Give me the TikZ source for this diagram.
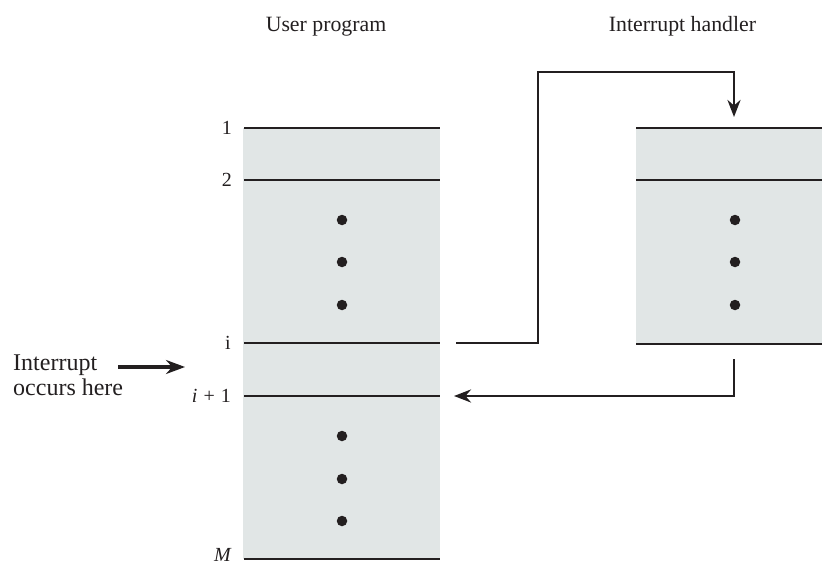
\documentclass[tikz,border=0pt]{standalone}
\usepackage{fontspec}
\setmainfont{Liberation Serif}
\usetikzlibrary{arrows.meta}
\definecolor{boxgray}{RGB}{225,230,230}
\definecolor{ink}{RGB}{35,31,32}
\begin{document}
\begin{tikzpicture}[x=1pt,y=-1pt,
  txt/.style={inner sep=0pt,text=ink,font=\fontsize{21.8}{25}\selectfont},
  note/.style={inner sep=0pt,text=ink,font=\fontsize{24}{25}\selectfont},
  lbl/.style={inner sep=0pt,text=ink,anchor=east,font=\fontsize{20}{21}\selectfont},
  rule/.style={draw=ink,line width=2pt},
  dotmark/.style={circle,fill=ink,inner sep=0pt,minimum size=10.5pt},
  flow/.style={draw=ink,line width=2.8pt,-{Stealth[length=17pt,width=13pt]}},
  bigflow/.style={draw=ink,line width=3.8pt,-{Stealth[length=19pt,width=14pt]}}]
\useasboundingbox (0,0) rectangle (822,567);
% boxes
\fill[boxgray] (243,128) rectangle (440,559);
\fill[boxgray] (636,128) rectangle (822,344);
% coordinates of rule ends
\coordinate (l1w) at (244,128); \coordinate (l1e) at (440,128);
\coordinate (l2w) at (244,180); \coordinate (l2e) at (440,180);
\coordinate (liw) at (244,343); \coordinate (lie) at (440,343);
\coordinate (ljw) at (244,396); \coordinate (lje) at (440,396);
\coordinate (lmw) at (244,559); \coordinate (lme) at (440,559);
\coordinate (r1w) at (636,128); \coordinate (r1e) at (822,128);
\coordinate (r2w) at (636,180); \coordinate (r2e) at (822,180);
\coordinate (r3w) at (636,344); \coordinate (r3e) at (822,344);
\foreach \a/\b in {l1w/l1e,l2w/l2e,liw/lie,ljw/lje,lmw/lme,r1w/r1e,r2w/r2e,r3w/r3e}
  \draw[rule] (\a) -- (\b);
% dots
\node[dotmark] (d1) at (342,220) {};
\node[dotmark] (d2) at (342,262) {};
\node[dotmark] (d3) at (342,305) {};
\node[dotmark] (d4) at (342,436) {};
\node[dotmark] (d5) at (342,479) {};
\node[dotmark] (d6) at (342,521) {};
\node[dotmark] (d7) at (735,220) {};
\node[dotmark] (d8) at (735,262) {};
\node[dotmark] (d9) at (735,305) {};
% titles
\node[txt,anchor=base] (tuser) at (326,32) {User program};
\node[txt,anchor=base] (thand) at (682.5,32) {Interrupt handler};
% labels
\node[lbl] (n1) at (232,128) {1};
\node[lbl] (n2) at (232,180) {2};
\node[lbl] (ni) at (231,343) {i};
\node[lbl] (nj) at (231,396) {\textit{i}\hspace{6pt}+\hspace{6pt}1};
\node[lbl] (nm) at (232,555) {\textit{M}};
% interrupt note
\node[note,anchor=base west,align=left] (note) at (13,395) {Interrupt\\occurs here};
\coordinate (ns) at (118,367);
\coordinate (ne) at (185,367);
\draw[bigflow] (ns) -- (ne);
% transfer arrows
\coordinate (outi) at (456,343);
\coordinate (up) at (538,72);
\coordinate (inh) at (734,117);
\draw[flow,line join=miter] (outi) -| (up) -| (inh);
\coordinate (outh) at (734,359);
\coordinate (inj) at (454,396);
\draw[flow,line join=miter] (outh) |- (inj);
\end{tikzpicture}
\end{document}
